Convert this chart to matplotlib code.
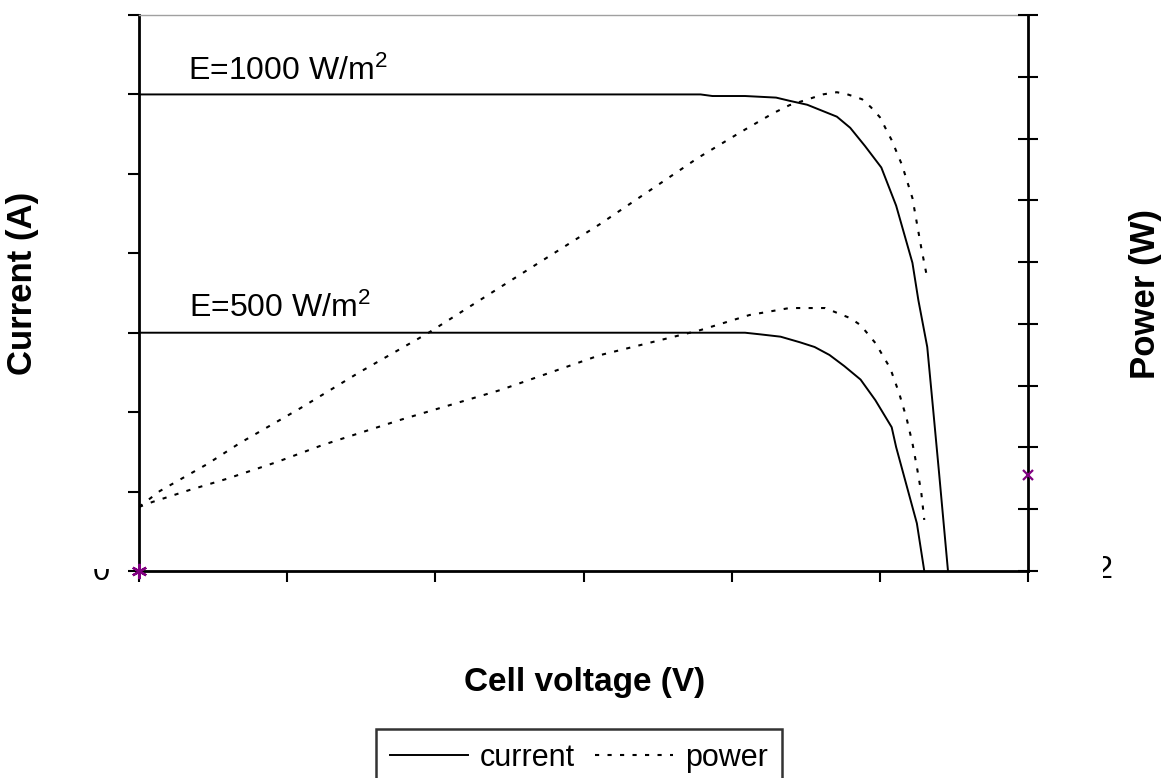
import matplotlib
matplotlib.use("Agg")
import matplotlib.pyplot as plt
from matplotlib.transforms import Bbox, TransformedBbox

plt.rcParams['font.family'] = ['Liberation Sans', 'DejaVu Sans']
plt.rcParams['mathtext.fontset'] = 'custom'
plt.rcParams['mathtext.rm'] = 'Liberation Sans'
plt.rcParams['mathtext.default'] = 'regular'

# I-V curves (voltage in V, current in A)
v_i1000 = [0, 0.379, 0.387, 0.409, 0.430, 0.439, 0.451, 0.471, 0.480, 0.490,
           0.501, 0.511, 0.522, 0.526, 0.532, 0.536, 0.540, 0.546]
i_1000 = [6.0, 6.0, 5.98, 5.98, 5.96, 5.92, 5.87, 5.72, 5.58, 5.35,
          5.08, 4.60, 3.88, 3.41, 2.82, 2.03, 1.23, 0.0]

v_i500 = [0, 0.409, 0.419, 0.433, 0.446, 0.456, 0.466, 0.476, 0.487, 0.497,
          0.508, 0.511, 0.518, 0.525, 0.530]
i_500 = [3.0, 3.0, 2.98, 2.95, 2.88, 2.82, 2.72, 2.58, 2.41, 2.15,
         1.81, 1.56, 1.08, 0.60, 0.0]

# P-V curves (power in W)
v_p1000 = [0, 0.014, 0.046, 0.068, 0.109, 0.149, 0.195, 0.244, 0.311, 0.368,
           0.377, 0.406, 0.428, 0.439, 0.462, 0.471, 0.478, 0.488, 0.494, 0.500,
           0.508, 0.515, 0.522, 0.525, 0.528, 0.532]
p_1000 = [0.311, 0.388, 0.519, 0.621, 0.791, 0.966, 1.155, 1.379, 1.684, 1.961,
          2.005, 2.131, 2.223, 2.262, 2.315, 2.325, 2.315, 2.291, 2.252, 2.204,
          2.092, 1.971, 1.811, 1.689, 1.568, 1.422]

v_p500 = [0, 0.009, 0.034, 0.059, 0.093, 0.124, 0.176, 0.244, 0.311, 0.379,
          0.412, 0.439, 0.463, 0.480, 0.487, 0.497, 0.507, 0.513, 0.518, 0.522,
          0.525, 0.528, 0.530]
p_500 = [0.311, 0.335, 0.393, 0.447, 0.529, 0.612, 0.733, 0.879, 1.048, 1.170,
         1.243, 1.277, 1.277, 1.228, 1.194, 1.107, 0.985, 0.864, 0.743, 0.621,
         0.505, 0.379, 0.248]

x_ticks = [0, 0.1, 0.2, 0.3, 0.4, 0.5, 0.6]
i_ticks = [0, 1, 2, 3, 4, 5, 6, 7]
p_ticks = [0, 0.3, 0.6, 0.9, 1.2, 1.5, 1.8, 2.1, 2.4, 2.7]

W, H = 1172, 778
fig = plt.figure(figsize=(W / 100, H / 100), dpi=100)
ax = fig.add_axes([139 / W, 1 - 571 / H, (1028 - 139) / W, (571 - 15) / H])
ax2 = ax.twinx()

line_kw = dict(color="black", lw=1.4)
dot_kw = dict(color="black", lw=1.5, linestyle=(0, (2.0, 4.0)))

ax.plot(v_i1000, i_1000, **line_kw, label="current")
ax.plot(v_i500, i_500, **line_kw)
ax2.plot(v_p1000, p_1000, **dot_kw, label="power")
ax2.plot(v_p500, p_500, **dot_kw)

# odd marker points sitting on the axes
ax.plot([0], [0], marker=(6, 2, 0), color="#800080", ms=11, mew=1.7,
        clip_on=False, zorder=5)
ax2.plot([0.6], [0.466], marker="x", color="#800080", ms=7, mew=1.6,
         clip_on=False, zorder=5)

ax.set_xlim(0, 0.6)
ax.set_ylim(0, 7)
ax2.set_ylim(0, 2.7)
ax.set_xticks(x_ticks)
ax.set_yticks(i_ticks)
ax2.set_yticks(p_ticks)

ax.tick_params(axis="both", direction="out", length=8, width=1.5,
               labelleft=False, labelbottom=False)
ax2.tick_params(axis="y", direction="inout", length=15, width=1.5,
                labelright=False)

for sp in ["left", "bottom"]:
    ax.spines[sp].set_linewidth(2.0)
ax.spines["right"].set_visible(False)
ax.spines["top"].set_color("#a0a0a0")
ax.spines["top"].set_linewidth(1.0)
for sp in ["left", "bottom", "top"]:
    ax2.spines[sp].set_visible(False)
ax2.spines["right"].set_linewidth(2.0)

ax.text(0.033, 6.18, "E=1000 W/m$^2$", fontsize=23, va="baseline")
ax.text(0.034, 3.2, "E=500 W/m$^2$", fontsize=23, va="baseline")

fig.text(585 / W, 1 - 683 / H, "Cell voltage (V)", fontsize=24,
         fontweight="bold", ha="center", va="center")
fig.text(23 / W, 1 - 283 / H, "Current (A)", fontsize=25, fontweight="bold",
         rotation=90, ha="center", va="center")
fig.text(1145 / W, 1 - 294 / H, "Power (W)", fontsize=25, fontweight="bold",
         rotation=90, ha="center", va="center")

# tick labels that are mostly cut away in the original
t0 = fig.text(101 / W, 1 - 572 / H, "0", fontsize=22, ha="center", va="center")
t0.set_clip_box(TransformedBbox(Bbox.from_extents(0, 0, 1, 1 - 569 / H),
                                fig.transFigure))
t0.set_clip_on(True)
t2 = fig.text(1104 / W, 1 - 570 / H, "2", fontsize=22, ha="center", va="center")
t2.set_clip_box(TransformedBbox(Bbox.from_extents(1103 / W, 0, 1, 1),
                                fig.transFigure))
t2.set_clip_on(True)

h1, l1 = ax.get_legend_handles_labels()
h2, l2 = ax2.get_legend_handles_labels()
leg = fig.legend(h1 + h2, l1 + l2, loc="upper center",
                 bbox_to_anchor=(579 / W, 1 - 729 / H), ncol=2, fontsize=22,
                 frameon=True, fancybox=False, edgecolor="black",
                 handlelength=2.55, handletextpad=0.4, columnspacing=0.65,
                 borderpad=0.45, borderaxespad=0)
leg.get_frame().set_linewidth(1.8)

fig.savefig("out.png", dpi=100)
